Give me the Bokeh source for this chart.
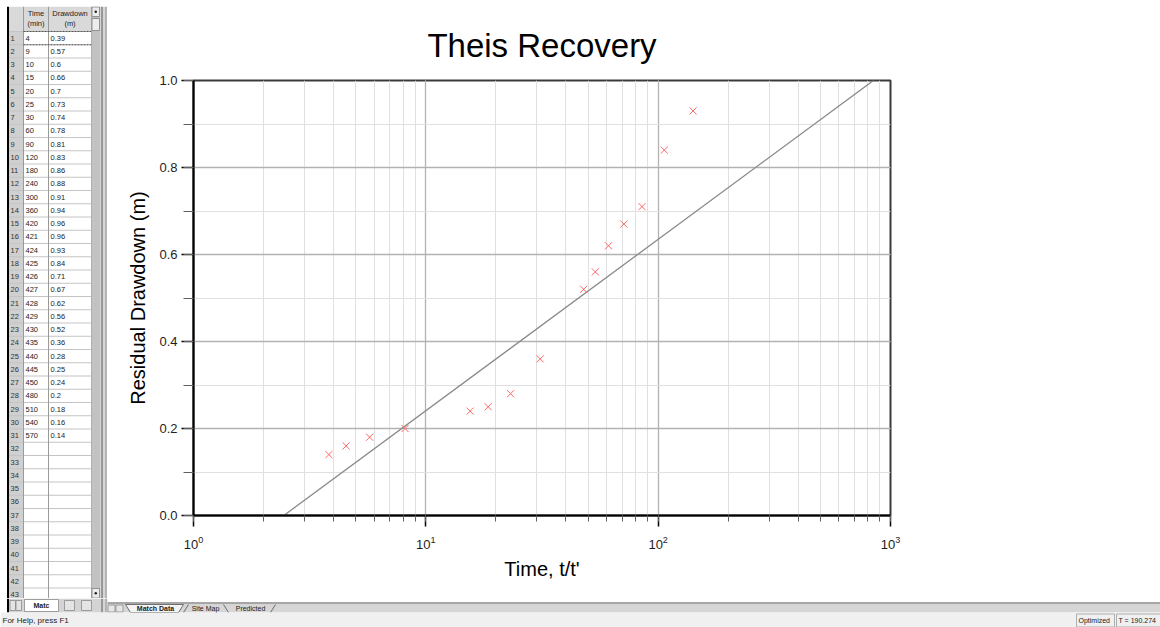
from bokeh.plotting import figure
from bokeh.models import (Range1d, LogTicker, SingleIntervalTicker, PrintfTickFormatter)
from bokeh.layouts import row, column
from bokeh.embed import file_html
from bokeh.resources import INLINE
from bokeh.core.properties import value

# ---------------- data ----------------
time_min = [4, 9, 10, 15, 20, 25, 30, 60, 90, 120, 180, 240, 300, 360, 420, 421,
            424, 425, 426, 427, 428, 429, 430, 435, 440, 445, 450, 480, 510, 540, 570]
drawdown_m = [0.39, 0.57, 0.6, 0.66, 0.7, 0.73, 0.74, 0.78, 0.81, 0.83, 0.86, 0.88,
              0.91, 0.94, 0.96, 0.96, 0.93, 0.84, 0.71, 0.67, 0.62, 0.56, 0.52, 0.36,
              0.28, 0.25, 0.24, 0.2, 0.18, 0.16, 0.14]
pumping_end_min = 421          # end of pumping period (min)
fit_zero_ratio = 2.447         # t/t' where fitted residual drawdown is zero
fit_slope_per_cycle = 0.394    # m of residual drawdown per log cycle
x_ticks = [1, 10, 100, 1000]
y_ticks = [0.0, 0.2, 0.4, 0.6, 0.8, 1.0]
chart_title = "Theis Recovery"
x_label = "Time, t/t'"
y_label = "Residual Drawdown (m)"
header_time = ["Time", "(min)"]
header_dd = ["Drawdown", "(m)"]
n_sheet_rows = 43
tab_labels = ["Match Data", "Site Map", "Predicted"]
sheet_tab_label = "Matc"
status_left = "For Help, press F1"
status_right = ["Optimized", "T = 190.274"]

FONT = value("Liberation Sans")

# recovery points: t/t' vs residual drawdown
rec_x = [t / (t - pumping_end_min) for t in time_min if t > pumping_end_min]
rec_y = [s for t, s in zip(time_min, drawdown_m) if t > pumping_end_min]
# fitted straight line over the y range
fit_y = [y_ticks[0], y_ticks[-1]]
fit_x = [fit_zero_ratio * 10 ** (yy / fit_slope_per_cycle) for yy in fit_y]


def blank(width, height, x0, x1, y0, y1, bg):
    f = figure(width=width, height=height, x_range=Range1d(x0, x1),
               y_range=Range1d(y1, y0), output_backend="svg", toolbar_location=None,
               x_axis_location=None, y_axis_location=None, min_border=0)
    f.grid.visible = False
    f.outline_line_color = None
    f.background_fill_color = bg
    f.border_fill_color = bg
    return f


def txt(f, x, y, t, size="7.5px", align="left", color="#222222", style="normal"):
    f.text(x=x, y=y, text=t, text_font=FONT, text_font_size=value(size),
           text_align=align, text_baseline="middle", text_color=color,
           text_font_style=style)


# ---------------- top strip (window edge) ----------------
top = blank(1160, 6, 0, 1160, 0, 6, "white")
top.quad(left=[6.5], right=[1160], top=[4.5], bottom=[6], fill_color="black", line_color=None)

# ---------------- spreadsheet ----------------
sh = blank(107, 592, 0, 107, 6, 598, "white")
row_h = 13.25
row_top0 = 31.0
sh.quad(left=[6.5], right=[8.5], top=[6], bottom=[598], fill_color="black", line_color=None)
sh.quad(left=[8.5], right=[91], top=[6], bottom=[row_top0], fill_color="#d9d9d9", line_color=None)
sh.quad(left=[8.5], right=[23], top=[row_top0], bottom=[598], fill_color="#d0d0d0", line_color=None)
ys = [row_top0 + k * row_h for k in range(n_sheet_rows)]
sh.segment(x0=[8.5] * len(ys), y0=ys, x1=[91] * len(ys), y1=ys, line_color="#c4c4c4", line_width=1)
sh.segment(x0=[23, 48, 91], y0=[6, 6, 6], x1=[23, 48, 91], y1=[598, 598, 598],
           line_color="#9a9a9a", line_width=1)
sh.segment(x0=[23, 23], y0=[row_top0, row_top0 + row_h], x1=[91, 91],
           y1=[row_top0, row_top0 + row_h], line_color="#555555", line_dash="2 1")
txt(sh, [35.5, 35.5], [13, 22.5], header_time, align="center")
txt(sh, [69.5, 69.5], [13, 22.5], header_dd, align="center")
centers = [row_top0 + row_h * (k + 0.5) for k in range(n_sheet_rows)]
txt(sh, [10] * n_sheet_rows, centers, [str(k + 1) for k in range(n_sheet_rows)], color="#333333")
txt(sh, [25] * len(time_min), centers[:len(time_min)], [str(v) for v in time_min])
txt(sh, [50] * len(drawdown_m), centers[:len(drawdown_m)], [f"{v:g}" for v in drawdown_m])
sh.quad(left=[91], right=[99.5], top=[6], bottom=[598], fill_color="#c2c2c2", line_color=None)
sh.quad(left=[91.5, 91.5, 91.5], right=[99, 99, 99], top=[6.5, 18, 588], bottom=[16, 30, 597.5],
        fill_color="#ececec", line_color="#808080", line_width=0.8)
sh.scatter(x=[95.25, 95.25], y=[11.2, 592.7], marker="circle", size=2.5, fill_color="#222222", line_color=None)
sh.quad(left=[99.5], right=[107], top=[6], bottom=[598], fill_color="#d6d6d6", line_color=None)
sh.segment(x0=[101.5, 105.5], y0=[6, 6], x1=[101.5, 105.5], y1=[598, 598],
           line_color=["#6e6e6e", "#9e9e9e"], line_width=1.2)

# ---------------- chart ----------------
p = figure(width=1053, height=592, x_axis_type="log", x_range=Range1d(x_ticks[0], x_ticks[-1]),
           y_range=Range1d(y_ticks[0], y_ticks[-1]), output_backend="svg", toolbar_location=None,
           min_border_left=86, min_border_right=270, min_border_top=74, min_border_bottom=83,
           title=chart_title)
p.background_fill_color = "white"
p.border_fill_color = "white"
p.outline_line_color = "#3a3a3a"
p.outline_line_width = 2
p.title.align = "center"
p.title.text_font = "Liberation Sans"
p.title.text_font_size = "33px"
p.title.text_font_style = "normal"
p.title.text_color = "black"
p.title.standoff = 33

p.xaxis.ticker = LogTicker(num_minor_ticks=10)
p.yaxis.ticker = SingleIntervalTicker(interval=0.2, num_minor_ticks=2)
p.yaxis.formatter = PrintfTickFormatter(format="%.1f")

for ax in (p.xaxis[0], p.yaxis[0]):
    ax.axis_line_color = "black"
    ax.axis_line_width = 2
    ax.major_tick_line_color = "black"
    ax.major_tick_line_width = 1.5
    ax.minor_tick_line_color = "#606060"
    ax.major_tick_in = 0
    ax.minor_tick_in = 0
    ax.major_label_text_font = "Liberation Sans"
    ax.major_label_text_font_size = "13px"
    ax.major_label_text_color = "#1e1e1e"
    ax.axis_label_text_font = "Liberation Sans"
    ax.axis_label_text_font_size = "20px"
    ax.axis_label_text_font_style = "normal"
    ax.axis_label_text_color = "black"

p.xaxis.major_tick_out = 11
p.xaxis.minor_tick_out = 6
p.xaxis.major_label_standoff = 9
p.xaxis.axis_label = x_label
p.xaxis.axis_label_standoff = 6
p.yaxis.major_tick_out = 12
p.yaxis.minor_tick_out = 10
p.yaxis.major_label_standoff = 4
p.yaxis.axis_label = y_label
p.yaxis.axis_label_standoff = 7

p.xgrid.grid_line_color = "#b2b2b2"
p.xgrid.grid_line_width = 1.3
p.xgrid.minor_grid_line_color = "#e0e0e0"
p.xgrid.minor_grid_line_width = 1
p.ygrid.grid_line_color = "#b2b2b2"
p.ygrid.grid_line_width = 1.3
p.ygrid.minor_grid_line_color = "#e0e0e0"
p.ygrid.minor_grid_line_width = 1

p.line(fit_x, fit_y, line_color="#8a8a8a", line_width=1.3)
p.scatter(rec_x, rec_y, marker="x", size=10, line_color="#ff6666", line_width=1)

# ---------------- bottom: sheet tabs, chart tabs, status bar ----------------
bt = blank(1160, 29, 0, 1160, 598, 627, "white")
bt.quad(left=[6.5], right=[8.5], top=[598], bottom=[612], fill_color="black", line_color=None)
bt.quad(left=[8.5], right=[99.5], top=[598], bottom=[612], fill_color="#d4d4d4", line_color=None)
bt.quad(left=[9.5, 15.5, 64, 81], right=[15, 21, 74, 91], top=[600] * 4,
        bottom=[610] * 4, fill_color="#e4e4e4", line_color="#8a8a8a", line_width=0.8)
bt.quad(left=[24], right=[58], top=[599], bottom=[611], fill_color="white", line_color="#8a8a8a", line_width=0.8)
txt(bt, [41], [605.2], [sheet_tab_label], size="7px", align="center", style="bold")
bt.quad(left=[99.5], right=[107], top=[598], bottom=[612], fill_color="#d6d6d6", line_color=None)
bt.segment(x0=[101.5, 105.5], y0=[598, 598], x1=[101.5, 105.5], y1=[612, 612],
           line_color=["#6e6e6e", "#9e9e9e"], line_width=1.2)
bt.quad(left=[107], right=[1160], top=[601.5], bottom=[604], fill_color="#a6a6a6", line_color=None)
bt.quad(left=[107], right=[1160], top=[604], bottom=[612], fill_color="#d6d6d6", line_color=None)
bt.quad(left=[107.5, 115.5], right=[114.5, 122.5], top=[604.5, 604.5], bottom=[611.5, 611.5],
        fill_color="#e6e6e6", line_color="#8a8a8a", line_width=0.8)
bt.patch(x=[125, 130, 178, 183], y=[604, 612, 612, 604], fill_color="#f4f4f4", line_color="#505050", line_width=0.8)
bt.segment(x0=[183, 223, 270], y0=[612, 604, 612], x1=[188, 228, 275], y1=[604, 612, 604],
           line_color="#505050", line_width=0.8)
txt(bt, [155], [608], [tab_labels[0]], size="7px", align="center", style="bold")
txt(bt, [205, 250], [608, 608], tab_labels[1:], size="7px", align="center")
bt.quad(left=[0], right=[1160], top=[612], bottom=[627], fill_color="#f0f0f0", line_color=None)
bt.quad(left=[1076, 1116], right=[1114, 1160], top=[613.5, 613.5], bottom=[626.5, 626.5],
        fill_color="#f0f0f0", line_color="#a0a0a0", line_width=0.8)
txt(bt, [2], [620], [status_left], size="8px")
txt(bt, [1078, 1118], [620, 620], status_right, size="7px")

layout = column(top, row(sh, column(p, spacing=0), spacing=0), bt, spacing=0)
open("out.html", "w").write(file_html(layout, INLINE))
